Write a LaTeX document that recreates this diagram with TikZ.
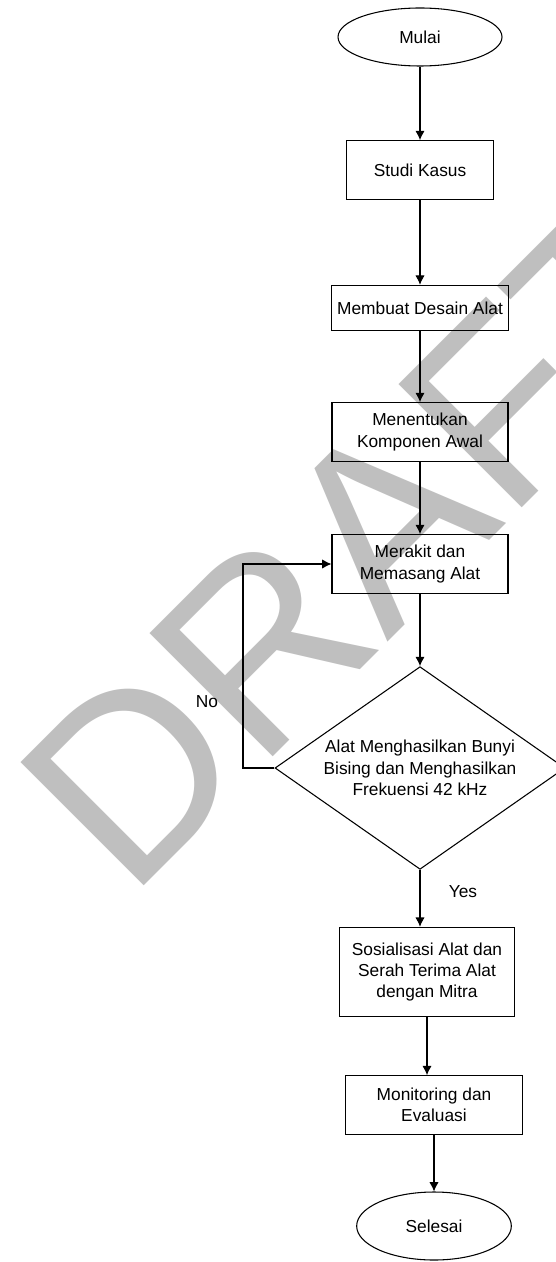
\documentclass[tikz,border=0pt]{standalone}
\usepackage{fontspec}
\setmainfont{Liberation Sans}
\usetikzlibrary{shapes,arrows.meta}

\begin{document}
\begin{tikzpicture}[x=0.75pt,y=-0.75pt,
      every node/.style={font=\fontsize{13}{16}\selectfont,align=center,inner sep=0pt},
      proc/.style={draw,rectangle,line width=0.8pt,minimum width=132pt,minimum height=44pt},
      term/.style={draw,ellipse,line width=0.8pt,minimum width=123pt,minimum height=43.5pt},
      dec/.style={draw,diamond,line width=0.8pt,aspect=1.43,minimum width=217.5pt,minimum height=152pt},
      arrow/.style={line width=0.8pt,-{Latex[length=7pt,width=7pt]}},
      wmark/.style={font=\fontsize{190}{190}\selectfont,text=black!25}]
    \useasboundingbox (0,0) rectangle (556,1262);
    % watermark
    \node[wmark,rotate=45,anchor=base west] (draft) at (129,901) {DRAFT};
    % steps
    \node[term] (mulai) at (420,37) {Mulai};
    \node[proc,minimum width=110pt] (studi) at (420,170) {Studi Kasus};
    \node[proc,minimum width=133pt,minimum height=34pt] (desain) at (420,308) {Membuat Desain Alat};
    \node[proc] (komponen) at (420,432) {Menentukan\\Komponen Awal};
    \node[proc] (rakit) at (420,564) {Merakit dan\\Memasang Alat};
    \node[dec] (uji) at (420,768) {Alat Menghasilkan Bunyi\\Bising dan Menghasilkan\\Frekuensi 42 kHz};
    \node[proc,minimum width=131pt,minimum height=67pt] (sosialisasi) at (427,972) {Sosialisasi Alat dan\\Serah Terima Alat\\dengan Mitra};
    \node[proc,minimum width=133pt] (monev) at (434,1105) {Monitoring dan\\Evaluasi};
    \node[term,minimum width=116pt,minimum height=51pt] (selesai) at (434,1226) {Selesai};
    \node (no) at (207,702) {No};
    \node (yes) at (463,892) {Yes};
    \coordinate (balik) at (243,768);
    % connectors
    \draw[arrow] (mulai) -- (studi);
    \draw[arrow] (studi) -- (desain);
    \draw[arrow] (desain) -- (komponen);
    \draw[arrow] (komponen) -- (rakit);
    \draw[arrow] (rakit) -- (uji);
    \draw[arrow] (uji.west) -- (balik) |- (rakit.west);
    \draw[arrow] (uji.south) -- (uji.south |- sosialisasi.north);
    \draw[arrow] (sosialisasi.south) -- (sosialisasi.south |- monev.north);
    \draw[arrow] (monev.south) -- (monev.south |- selesai.north);
\end{tikzpicture}
\end{document}
